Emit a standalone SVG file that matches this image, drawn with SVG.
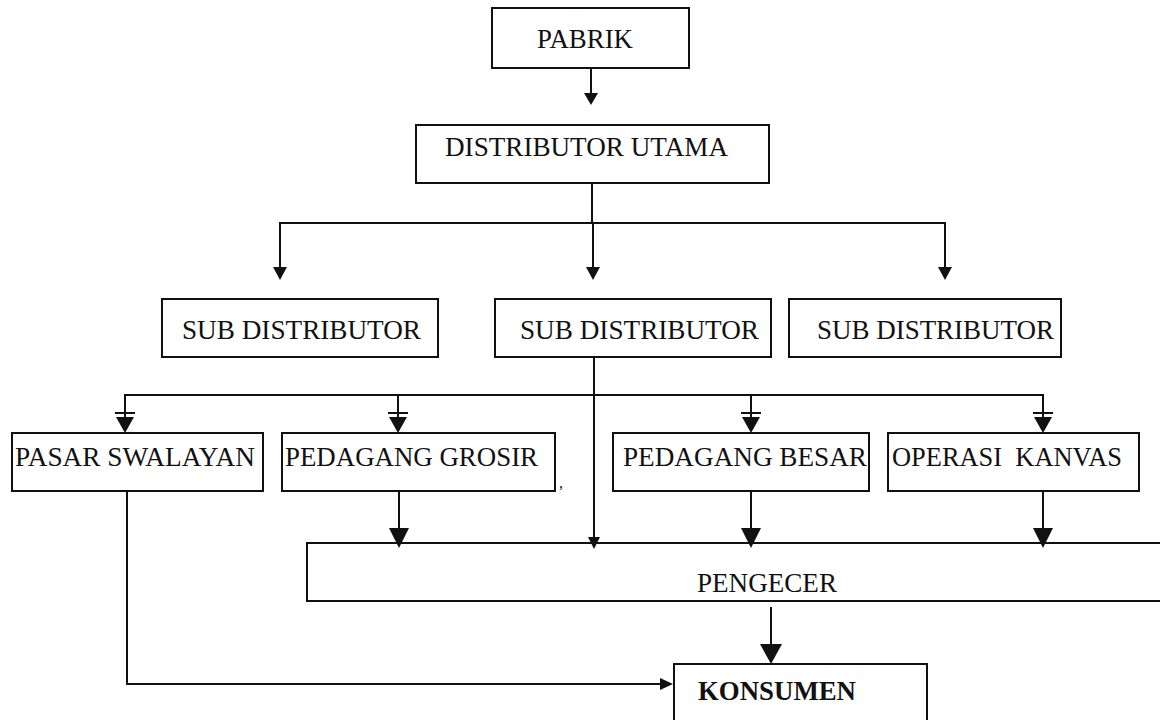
<svg xmlns="http://www.w3.org/2000/svg" width="1160" height="720" viewBox="0 0 1160 720">
<style>
.box{fill:#fff;stroke:#111;stroke-width:2}
.t{font-family:"Liberation Serif","Times New Roman",serif;font-size:27px;fill:#111}
.b{font-weight:bold}
.c{fill:none;stroke:#111;stroke-width:2}
.h{fill:#111;stroke:none}
.bar{stroke:#111;stroke-width:2}
</style>
<rect width="1160" height="720" fill="#fff"/>
<g id="pabrik">
  <rect class="box" x="492" y="8" width="197" height="60"/>
  <text class="t" x="537" y="48" textLength="96" lengthAdjust="spacingAndGlyphs">PABRIK</text>
</g>
<g id="distributor-utama">
  <rect class="box" x="416" y="125" width="353" height="58"/>
  <text class="t" x="445" y="156" textLength="283" lengthAdjust="spacingAndGlyphs">DISTRIBUTOR UTAMA</text>
</g>
<g id="sub-distributor-1">
  <rect class="box" x="162" y="299" width="276" height="58"/>
  <text class="t" x="182" y="339" textLength="239" lengthAdjust="spacingAndGlyphs">SUB DISTRIBUTOR</text>
</g>
<g id="sub-distributor-2">
  <rect class="box" x="495" y="299" width="276" height="58"/>
  <text class="t" x="520" y="339" textLength="239" lengthAdjust="spacingAndGlyphs">SUB DISTRIBUTOR</text>
</g>
<g id="sub-distributor-3">
  <rect class="box" x="789" y="299" width="272" height="58"/>
  <text class="t" x="817" y="339" textLength="237" lengthAdjust="spacingAndGlyphs">SUB DISTRIBUTOR</text>
</g>
<g id="pasar-swalayan">
  <rect class="box" x="12" y="433" width="251" height="58"/>
  <text class="t" x="15" y="466" textLength="240" lengthAdjust="spacingAndGlyphs">PASAR SWALAYAN</text>
</g>
<g id="pedagang-grosir">
  <rect class="box" x="282" y="433" width="273" height="58"/>
  <text class="t" x="285" y="466" textLength="253" lengthAdjust="spacingAndGlyphs">PEDAGANG GROSIR</text>
  <text class="t" x="559" y="488" style="font-size:16px">,</text>
</g>
<g id="pedagang-besar">
  <rect class="box" x="613" y="433" width="256" height="58"/>
  <text class="t" x="623" y="466" textLength="244" lengthAdjust="spacingAndGlyphs">PEDAGANG BESAR</text>
</g>
<g id="operasi-kanvas">
  <rect class="box" x="888" y="433" width="251" height="58"/>
  <text class="t" x="892" y="466" xml:space="preserve" textLength="230" lengthAdjust="spacingAndGlyphs">OPERASI  KANVAS</text>
</g>
<g id="pengecer">
  <rect class="box" x="307" y="543" width="855" height="58"/>
  <text class="t" x="697" y="592" textLength="140" lengthAdjust="spacingAndGlyphs">PENGECER</text>
</g>
<g id="konsumen">
  <rect class="box" x="674" y="664" width="253" height="70"/>
  <text class="t b" x="698" y="700" textLength="158" lengthAdjust="spacingAndGlyphs">KONSUMEN</text>
</g>
<g id="connectors">
  <line class="c" x1="591" y1="68" x2="591" y2="95"/>
  <polygon class="h" points="584,93 598,93 591,105"/>
  <polyline class="c" points="592,183 592,223"/>
  <polyline class="c" points="280,270 280,223 945,223 945,270"/>
  <line class="c" x1="593" y1="223" x2="593" y2="270"/>
  <polygon class="h" points="273,267 287,267 280,280"/>
  <polygon class="h" points="586,267 600,267 593,280"/>
  <polygon class="h" points="938,267 952,267 945,280"/>
  <line class="c" x1="594" y1="357" x2="594" y2="540"/>
  <polyline class="c" points="125,418 125,395 1043,395 1043,418"/>
  <line class="c" x1="398" y1="395" x2="398" y2="418"/>
  <line class="c" x1="751" y1="395" x2="751" y2="418"/>
  <g>
    <line class="bar" x1="115" y1="413" x2="135" y2="413"/>
    <polygon class="h" points="116,417 134,417 125,433"/>
    <line class="bar" x1="388" y1="413" x2="408" y2="413"/>
    <polygon class="h" points="389,417 407,417 398,433"/>
    <line class="bar" x1="741" y1="413" x2="761" y2="413"/>
    <polygon class="h" points="742,417 760,417 751,433"/>
    <line class="bar" x1="1033" y1="413" x2="1053" y2="413"/>
    <polygon class="h" points="1034,417 1052,417 1043,433"/>
  </g>
  <polygon class="h" points="588,537 600,537 594,549"/>
  <line class="c" x1="399" y1="491" x2="399" y2="532"/>
  <polygon class="h" points="389,528 409,528 399,548"/>
  <line class="c" x1="751" y1="491" x2="751" y2="532"/>
  <polygon class="h" points="741,528 761,528 751,548"/>
  <line class="c" x1="1043" y1="491" x2="1043" y2="532"/>
  <polygon class="h" points="1033,528 1053,528 1043,548"/>
  <line class="c" x1="771" y1="607" x2="771" y2="648"/>
  <polygon class="h" points="760,644 782,644 771,664"/>
  <polyline class="c" points="127,491 127,684 662,684"/>
  <polygon class="h" points="660,678 673,684 660,690"/>
</g>
</svg>
